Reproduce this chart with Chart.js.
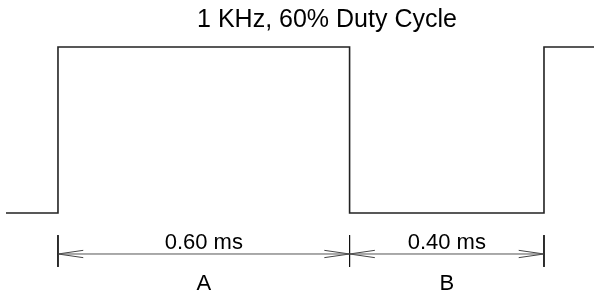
<!DOCTYPE html>
<html lang="en">
<head>
    <meta charset="UTF-8">
    <title>1 KHz, 60% Duty Cycle</title>
    <script src="https://cdn.jsdelivr.net/npm/chart.js"></script>
    <style>
        html, body { margin: 0; padding: 0; background: #fff; }
    </style>
</head>
<body>
    <div style="width: 594px; height: 294px;">
        <canvas id="waveChart"></canvas>
    </div>
    <script>
        // square wave: time (ms) and level
        const waveTimes = [-0.107, 0, 0, 0.6, 0.6, 1.0, 1.0, 1.11];
        const waveLevels = [0, 0, 1, 1, 0, 0, 1, 1];

        // dimension marks
        const dimEdges = [0, 0.6, 1.0];
        const dimLabels = ['0.60 ms', '0.40 ms'];
        const dimNames = ['A', 'B'];
        const titleText = '1 KHz, 60% Duty Cycle';

        const dimY = -0.247;
        const tickTop = -0.133;
        const tickBottom = -0.325;
        const arrowLen = 0.052;
        const arrowHalf = 0.022;

        const wave = waveTimes.map((t, i) => ({ x: t, y: waveLevels[i] }));

        const ticks = [];
        dimEdges.forEach(t => {
            ticks.push({ x: t, y: tickTop }, { x: t, y: tickBottom }, { x: t, y: null });
        });

        const dimLine = [
            { x: dimEdges[0], y: dimY },
            { x: dimEdges[dimEdges.length - 1], y: dimY }
        ];

        const arrows = [];
        for (let i = 0; i < dimEdges.length - 1; i++) {
            const a = dimEdges[i], b = dimEdges[i + 1];
            arrows.push({ x: a + arrowLen, y: dimY + arrowHalf }, { x: a, y: dimY }, { x: a + arrowLen, y: dimY - arrowHalf }, { x: a, y: null });
            arrows.push({ x: b - arrowLen, y: dimY + arrowHalf }, { x: b, y: dimY }, { x: b - arrowLen, y: dimY - arrowHalf }, { x: b, y: null });
        }

        const textPlugin = {
            id: 'dimText',
            afterDatasetsDraw(chart) {
                const { ctx, scales: { x, y } } = chart;
                ctx.save();
                ctx.fillStyle = '#000';
                ctx.textAlign = 'center';
                ctx.textBaseline = 'alphabetic';
                ctx.font = '25px "Liberation Sans", Arial, sans-serif';
                ctx.fillText(titleText, 327, 27);
                ctx.font = '22px "Liberation Sans", Arial, sans-serif';
                for (let i = 0; i < dimLabels.length; i++) {
                    const cx = (x.getPixelForValue(dimEdges[i]) + x.getPixelForValue(dimEdges[i + 1])) / 2;
                    ctx.fillText(dimLabels[i], cx, y.getPixelForValue(dimY) - 5);
                    ctx.fillText(dimNames[i], cx, 290);
                }
                ctx.restore();
            }
        };

        const ctx = document.getElementById('waveChart').getContext('2d');
        new Chart(ctx, {
            type: 'scatter',
            data: {
                datasets: [
                    { data: wave, showLine: true, borderColor: '#222', borderWidth: 1.6, pointRadius: 0, spanGaps: false },
                    { data: dimLine, showLine: true, borderColor: '#555', borderWidth: 1, pointRadius: 0 },
                    { data: ticks, showLine: true, borderColor: '#111', borderWidth: 1, pointRadius: 0, spanGaps: false },
                    { data: arrows, showLine: true, borderColor: '#444', borderWidth: 1, pointRadius: 0, spanGaps: false }
                ]
            },
            options: {
                responsive: true,
                maintainAspectRatio: false,
                animation: false,
                layout: { padding: 0 },
                plugins: {
                    legend: { display: false },
                    tooltip: { enabled: false }
                },
                scales: {
                    x: { type: 'linear', display: false, min: -0.1193, max: 1.1029 },
                    y: { type: 'linear', display: false, min: -0.488, max: 1.283 }
                }
            },
            plugins: [textPlugin]
        });
    </script>
</body>
</html>
